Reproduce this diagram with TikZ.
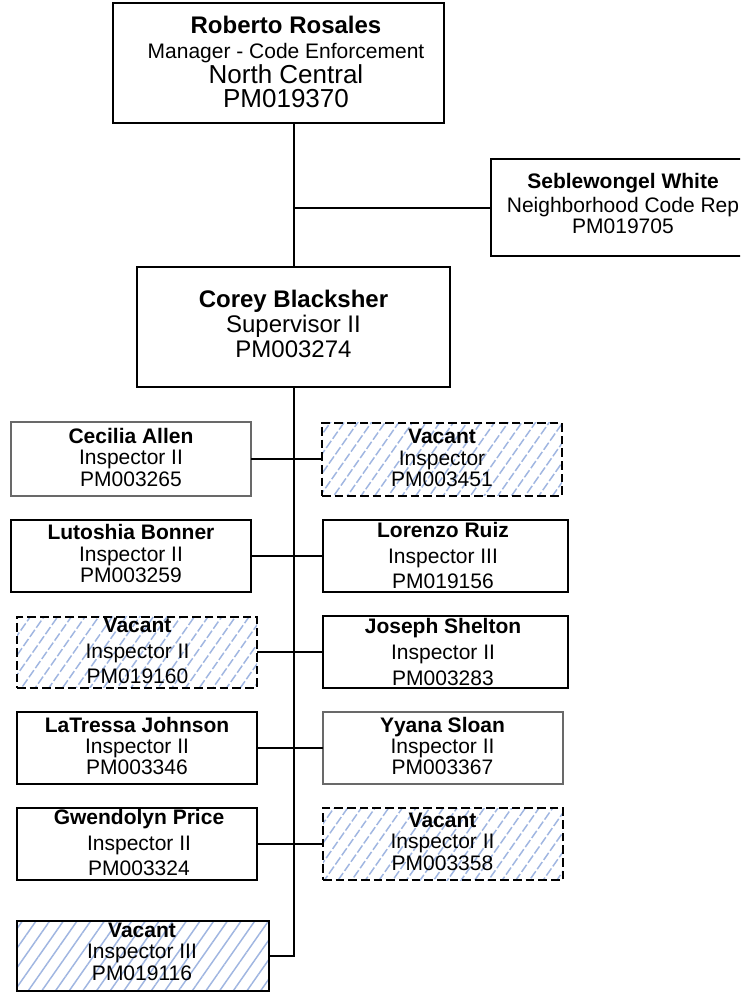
\documentclass[tikz,border=0pt]{standalone}
\usepackage{fontspec}
\setmainfont{Liberation Sans}
\usetikzlibrary{patterns.meta}
\definecolor{hatch}{RGB}{160,182,225}
\definecolor{thingray}{RGB}{105,105,105}
\newcommand\fsz[1]{\fontsize{#1}{#1}\selectfont}
\newcommand\obox[6]{\node[#6, minimum width=#4*0.75pt, minimum height=#5*0.75pt] (#1) at (#2,#3) {};}
\newcommand\otext[5]{\node[txt,font=#4] (#1) at (#2,#3) {#5};}
\tikzset{
  box/.style={draw=black, line width=1.5pt, inner sep=0pt, outer sep=0pt},
  graybox/.style={draw=thingray, line width=0.9pt, inner sep=0pt, outer sep=0pt},
  hatched/.style={pattern={Lines[angle=55,distance=8.4pt,line width=1.1pt]}, pattern color=hatch},
  vacbox/.style={box, hatched, dash pattern=on 6.5pt off 3pt},
  solidvac/.style={box, hatched},
  txt/.style={anchor=base, inner sep=0pt, outer sep=0pt},
  conn/.style={draw=black, line width=1.5pt},
}
\begin{document}
\begin{tikzpicture}[x=0.75pt,y=-0.75pt]
\useasboundingbox (0,0) rectangle (740,992);
\fill[white] (0,0) rectangle (740,992);
\clip (0,0) rectangle (740,992);

% top
\obox{top}{278.5}{63}{331}{120}{box}
\otext{top1}{286}{33}{\fsz{18pt}\bfseries}{Roberto Rosales}
\otext{top2}{286}{58}{\fsz{15.75pt}}{Manager - Code Enforcement}
\otext{top3}{286}{83}{\fsz{19.5pt}}{North Central}
\otext{top4}{286}{107}{\fsz{19.5pt}}{PM019370}

% seblewongel
\obox{seb}{623}{207.5}{264}{97}{box}
\otext{seb1}{623}{188}{\fsz{15.75pt}\bfseries}{Seblewongel White}
\otext{seb2}{623}{212}{\fsz{15.75pt}}{Neighborhood Code Rep}
\otext{seb3}{623}{233}{\fsz{15.75pt}}{PM019705}

% corey
\obox{corey}{293.5}{327}{313}{120}{box}
\otext{corey1}{293.5}{307}{\fsz{18pt}\bfseries}{Corey Blacksher}
\otext{corey2}{293.5}{332}{\fsz{18pt}}{Supervisor II}
\otext{corey3}{293.5}{357}{\fsz{18pt}}{PM003274}

% row 1
\obox{cecilia}{131}{459}{240}{74}{graybox}
\otext{cecilia1}{131}{443}{\fsz{15.75pt}\bfseries}{Cecilia Allen}
\otext{cecilia2}{131}{464}{\fsz{15.75pt}}{Inspector II}
\otext{cecilia3}{131}{486}{\fsz{15.75pt}}{PM003265}

\obox{vaca}{442}{459}{240}{73}{vacbox}
\otext{vaca1}{442}{443}{\fsz{15.75pt}\bfseries}{Vacant}
\otext{vaca2}{442}{465}{\fsz{15.75pt}}{Inspector}
\otext{vaca3}{442}{486}{\fsz{15.75pt}}{PM003451}

% row 2
\obox{lutoshia}{131}{556}{240}{72}{box}
\otext{lutoshia1}{131}{539}{\fsz{15.75pt}\bfseries}{Lutoshia Bonner}
\otext{lutoshia2}{131}{561}{\fsz{15.75pt}}{Inspector II}
\otext{lutoshia3}{131}{582}{\fsz{15.75pt}}{PM003259}

\obox{lorenzo}{445.5}{556}{245}{72}{box}
\otext{lorenzo1}{443}{537}{\fsz{15.75pt}\bfseries}{Lorenzo Ruiz}
\otext{lorenzo2}{443}{563}{\fsz{15.75pt}}{Inspector III}
\otext{lorenzo3}{443}{588}{\fsz{15.75pt}}{PM019156}

% row 3
\obox{vacb}{137}{652}{240}{71}{vacbox}
\otext{vacb1}{137.5}{632}{\fsz{15.75pt}\bfseries}{Vacant}
\otext{vacb2}{137.5}{658}{\fsz{15.75pt}}{Inspector II}
\otext{vacb3}{137.5}{683}{\fsz{15.75pt}}{PM019160}

\obox{joseph}{445.5}{652}{245}{72}{box}
\otext{joseph1}{443}{633}{\fsz{15.75pt}\bfseries}{Joseph Shelton}
\otext{joseph2}{443}{659}{\fsz{15.75pt}}{Inspector II}
\otext{joseph3}{443}{685}{\fsz{15.75pt}}{PM003283}

% row 4
\obox{latressa}{137}{748}{240}{72}{box}
\otext{latressa1}{137}{732}{\fsz{15.75pt}\bfseries}{LaTressa Johnson}
\otext{latressa2}{137}{753}{\fsz{15.75pt}}{Inspector II}
\otext{latressa3}{137}{774}{\fsz{15.75pt}}{PM003346}

\obox{yyana}{443}{748}{240}{72}{graybox}
\otext{yyana1}{442.5}{732}{\fsz{15.75pt}\bfseries}{Yyana Sloan}
\otext{yyana2}{442.5}{753}{\fsz{15.75pt}}{Inspector II}
\otext{yyana3}{442.5}{774}{\fsz{15.75pt}}{PM003367}

% row 5
\obox{gwendolyn}{137}{844}{240}{72}{box}
\otext{gwendolyn1}{139}{824}{\fsz{15.75pt}\bfseries}{Gwendolyn Price}
\otext{gwendolyn2}{139}{850}{\fsz{15.75pt}}{Inspector II}
\otext{gwendolyn3}{139}{875}{\fsz{15.75pt}}{PM003324}

\obox{vacc}{443}{844}{240}{72}{vacbox}
\otext{vacc1}{442.5}{827}{\fsz{15.75pt}\bfseries}{Vacant}
\otext{vacc2}{442.5}{848}{\fsz{15.75pt}}{Inspector II}
\otext{vacc3}{442.5}{870}{\fsz{15.75pt}}{PM003358}

% bottom
\obox{vacd}{143}{956}{252}{70}{solidvac}
\otext{vacd1}{142}{937}{\fsz{15.75pt}\bfseries}{Vacant}
\otext{vacd2}{142}{958}{\fsz{15.75pt}}{Inspector III}
\otext{vacd3}{142}{980}{\fsz{15.75pt}}{PM019116}

% connectors
\draw[conn] (top.south -| corey.north) -- (corey.north);
\draw[conn] (seb.west) -- (seb.west -| corey.north);
\draw[conn] (corey.south) |- (vacd.east);
\draw[conn] (cecilia.east) -- (vaca.west);
\draw[conn] (lutoshia.east) -- (lorenzo.west);
\draw[conn] (vacb.east) -- (joseph.west);
\draw[conn] (latressa.east) -- (yyana.west);
\draw[conn] (gwendolyn.east) -- (vacc.west);
\end{tikzpicture}
\end{document}
